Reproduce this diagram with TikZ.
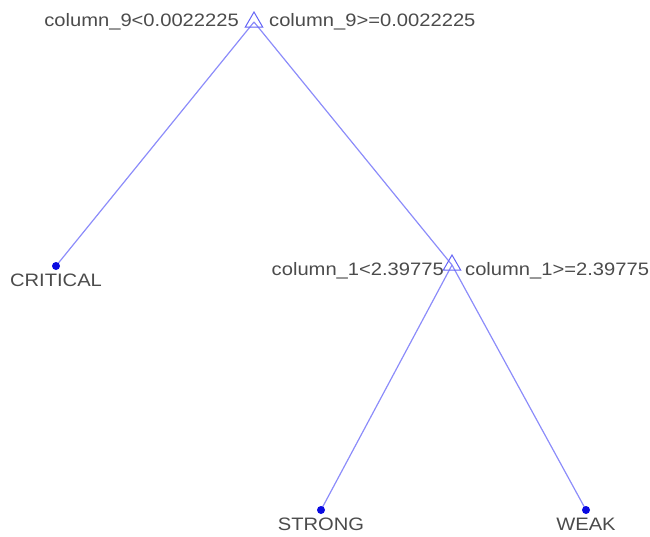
\documentclass[tikz,border=0pt]{standalone}
\usepackage{fontspec}
\setmainfont{Liberation Sans}[FakeStretch=1.12]
\usetikzlibrary{shapes.geometric}
\definecolor{edgeblue}{RGB}{140,140,250}
\definecolor{splitblue}{RGB}{100,100,245}
\definecolor{leafblue}{RGB}{10,10,225}
\definecolor{labelgray}{RGB}{75,75,75}
\tikzset{
	split/.style={draw=splitblue,line width=1pt,regular polygon,regular polygon sides=3,minimum size=20pt,inner sep=0pt},
	leaf/.style={fill=leafblue,circle,minimum size=8pt,inner sep=0pt},
	branch/.style={edgeblue,line width=1.2pt},
	lbl/.style={text=labelgray,inner sep=0pt,font=\fontsize{18pt}{20pt}\selectfont}
}
\begin{document}
\begin{tikzpicture}[x=1pt,y=-1pt]
	\useasboundingbox (0,0) rectangle (650,536);
	\path (254,22) coordinate (R)
	(452,265) coordinate (S)
	(56,266) coordinate (C)
	(321,510) coordinate (G)
	(586,510) coordinate (W);
	\draw[branch] (R)--(C) (R)--(S) (S)--(G) (S)--(W);
	\node[split] (root) at (R) {};
	\node[split] (split1) at (S) {};
	\foreach \p/\n in {C/crit,G/strong,W/weak} \node[leaf] (\n) at (\p) {};
	\node[lbl,anchor=base east] (rootlo) at (239,26) {column\_9<0.0022225};
	\node[lbl,anchor=base west] (roothi) at (269,26) {column\_9>=0.0022225};
	\node[lbl,anchor=base east] (splitlo) at (444,275) {column\_1<2.39775};
	\node[lbl,anchor=base west] (splithi) at (465,275) {column\_1>=2.39775};
	\foreach \n/\t in {crit/CRITICAL,strong/STRONG,weak/WEAK}
		\node[lbl,anchor=base] at ([yshift=-20pt]\n.center) {\t};
\end{tikzpicture}
\end{document}
